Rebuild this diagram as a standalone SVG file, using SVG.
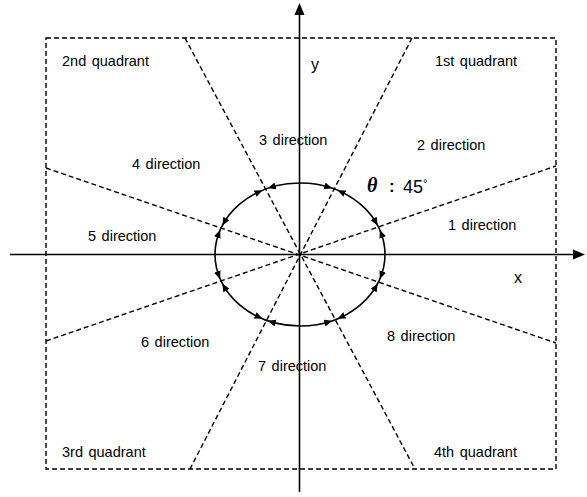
<svg xmlns="http://www.w3.org/2000/svg" width="587" height="497" viewBox="0 0 587 497">
<style>
.dash{fill:none;stroke:#000;stroke-width:1.4;stroke-dasharray:5 3}
.axis{fill:none;stroke:#000;stroke-width:1.6}
.t{font-family:"Liberation Sans",Arial,sans-serif;font-size:14.5px;fill:#000;word-spacing:1.5px}
.h{fill:none;stroke:none;marker-end:url(#ah)}
</style>
<defs>
<marker id="ah" markerUnits="userSpaceOnUse" markerWidth="10" markerHeight="8" refX="8" refY="3.5" orient="auto">
<path d="M0,0 L8,3.5 L0,7 Z" fill="#000"/>
</marker>
</defs>
<rect width="587" height="497" fill="#fff"/>
<g id="frame">
<rect class="dash" x="46" y="38" width="510" height="431"/>
</g>
<g id="connectors">
<line class="dash" x1="185" y1="38" x2="415" y2="469"/>
<line class="dash" x1="412" y1="38" x2="190" y2="469"/>
<line class="dash" x1="46" y1="168" x2="556" y2="343"/>
<line class="dash" x1="46" y1="341" x2="556" y2="166"/>
<line class="axis" x1="299.5" y1="492" x2="299.5" y2="12"/>
<path d="M299.5,3 L294.5,15 L304.5,15 Z" fill="#000"/>
<line class="axis" x1="10" y1="254.5" x2="576" y2="254.5"/>
<path d="M585,254.5 L573,249.5 L573,259.5 Z" fill="#000"/>
</g>
<g id="ellipse">
<ellipse cx="300" cy="254.5" rx="85" ry="71.5" fill="none" stroke="#000" stroke-width="1.6"/>
<path class="h" d="M326.55,186.58 L332.11,188.30"/>
<path class="h" d="M342.76,192.70 L337.53,190.34"/>
<path class="h" d="M375.05,220.93 L377.65,225.42"/>
<path class="h" d="M381.71,234.79 L379.87,230.05"/>
<path class="h" d="M375.05,288.07 L377.65,283.58"/>
<path class="h" d="M381.71,274.21 L379.87,278.95"/>
<path class="h" d="M326.55,322.42 L332.11,320.70"/>
<path class="h" d="M342.76,316.30 L337.53,318.66"/>
<path class="h" d="M273.45,186.58 L267.89,188.30"/>
<path class="h" d="M257.24,192.70 L262.47,190.34"/>
<path class="h" d="M224.95,220.93 L222.35,225.42"/>
<path class="h" d="M218.29,234.79 L220.13,230.05"/>
<path class="h" d="M224.95,288.07 L222.35,283.58"/>
<path class="h" d="M218.29,274.21 L220.13,278.95"/>
<path class="h" d="M273.45,322.42 L267.89,320.70"/>
<path class="h" d="M257.24,316.30 L262.47,318.66"/>
</g>
<g id="labels">
<text class="t" x="62" y="66">2nd quadrant</text>
<text class="t" x="435" y="66">1st quadrant</text>
<text class="t" x="62" y="457">3rd quadrant</text>
<text class="t" x="434" y="457">4th quadrant</text>
<text class="t" x="311" y="70" style="font-size:16px">y</text>
<text class="t" x="514" y="283" style="font-size:16px">x</text>
<text class="t" x="259" y="145">3 direction</text>
<text class="t" x="417" y="150">2 direction</text>
<text class="t" x="132" y="169">4 direction</text>
<text class="t" x="448" y="230">1 direction</text>
<text class="t" x="88" y="241">5 direction</text>
<text class="t" x="141" y="347">6 direction</text>
<text class="t" x="387" y="341">8 direction</text>
<text class="t" x="258" y="371">7 direction</text>
<text x="367" y="192" style="font-family:'Liberation Serif',serif;font-style:italic;font-weight:bold;font-size:20px">θ</text>
<text x="389" y="192" style="font-family:'Liberation Sans',sans-serif;font-weight:bold;font-size:17px">:</text>
<text x="403" y="193" style="font-family:'Liberation Sans',sans-serif;font-size:18px">45<tspan dy="-6" style="font-size:11px">°</tspan></text>
</g>
</svg>
